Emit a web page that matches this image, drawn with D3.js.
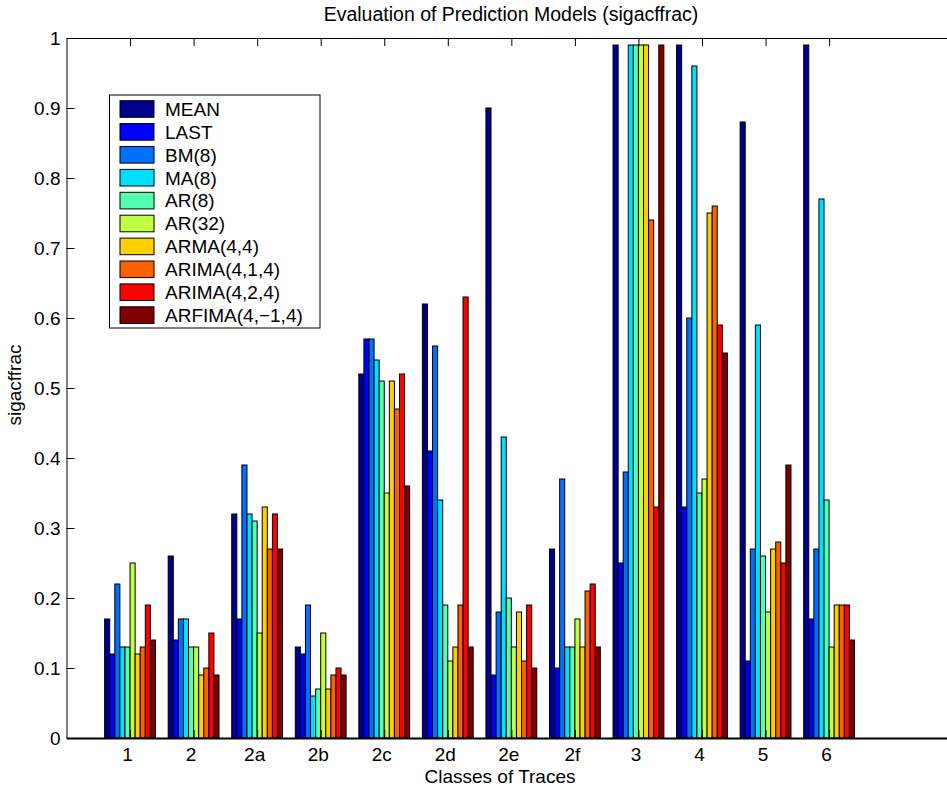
<!DOCTYPE html>
<html>
<head>
<meta charset="utf-8">
<script src="https://cdn.jsdelivr.net/npm/d3@7"></script>
<style>
	body { margin: 0; background: #fff; }
	text { font-family: "Liberation Sans", Arial, Helvetica, sans-serif; }
</style>
</head>
<body>
<div id="bar"></div>
<script>
// categories on the x axis
const categories = ["1", "2", "2a", "2b", "2c", "2d", "2e", "2f", "3", "4", "5", "6"];

// model names (legend order)
const models = ["MEAN", "LAST", "BM(8)", "MA(8)", "AR(8)", "AR(32)", "ARMA(4,4)", "ARIMA(4,1,4)", "ARIMA(4,2,4)", "ARFIMA(4,\u22121,4)"];

// sigacffrac values per model, one per category
const meanVals    = [0.17, 0.26, 0.32, 0.13, 0.52, 0.62, 0.90, 0.27, 0.99, 0.99, 0.88, 0.99];
const lastVals    = [0.12, 0.14, 0.17, 0.12, 0.57, 0.41, 0.09, 0.10, 0.25, 0.33, 0.11, 0.17];
const bm8Vals     = [0.22, 0.17, 0.39, 0.19, 0.57, 0.56, 0.18, 0.37, 0.38, 0.60, 0.27, 0.27];
const ma8Vals     = [0.13, 0.17, 0.32, 0.06, 0.54, 0.34, 0.43, 0.13, 0.99, 0.96, 0.59, 0.77];
const ar8Vals     = [0.13, 0.13, 0.31, 0.07, 0.51, 0.19, 0.20, 0.13, 0.99, 0.35, 0.26, 0.34];
const ar32Vals    = [0.25, 0.13, 0.15, 0.15, 0.35, 0.11, 0.13, 0.17, 0.99, 0.37, 0.18, 0.13];
const armaVals    = [0.12, 0.09, 0.33, 0.07, 0.51, 0.13, 0.18, 0.13, 0.99, 0.75, 0.27, 0.19];
const arima414Vals = [0.13, 0.10, 0.27, 0.09, 0.47, 0.19, 0.11, 0.21, 0.74, 0.76, 0.28, 0.19];
const arima424Vals = [0.19, 0.15, 0.32, 0.10, 0.52, 0.63, 0.19, 0.22, 0.33, 0.59, 0.25, 0.19];
const arfimaVals  = [0.14, 0.09, 0.27, 0.09, 0.36, 0.13, 0.10, 0.13, 0.99, 0.55, 0.39, 0.14];

// jet colormap entries used for the 10 series
const colors = ["#00008f", "#0000ff", "#0070ff", "#00dfff", "#50ffb0", "#bfff40", "#ffcf00", "#ff6000", "#ff0000", "#800000"];

const yTicks = [0, 0.1, 0.2, 0.3, 0.4, 0.5, 0.6, 0.7, 0.8, 0.9, 1];

class GroupedBar {
	constructor(_series){
		this.margin = {top: 38, left: 66.5, bottom: 52};
		this.svgWidth = 947;
		this.svgHeight = 790;
		this.height = this.svgHeight - this.margin.top - this.margin.bottom;
		this.series = _series;
		this.initVis();
	}

	initVis(){
		let vis = this;

		vis.svg = d3.select("#bar").append("svg")
			.attr("width", vis.svgWidth)
			.attr("height", vis.svgHeight);

		// x runs from 0 to 14 like matlab, the right part falls off the figure
		vis.step = 63.55;
		vis.xScale = d3.scaleLinear().domain([0, 14]).range([0, 14 * vis.step]);
		vis.yScale = d3.scaleLinear().domain([0, 1]).range([vis.height, 0]);

		vis.focus = vis.svg.append("g")
			.attr("transform", "translate(" + vis.margin.left + "," + vis.margin.top + ")");

		vis.renderVis();
	}

	renderVis(){
		let vis = this;
		const n = vis.series.length;
		const groupW = 0.8;
		const barW = groupW / n;

		// bars, one group per series
		vis.focus.selectAll("g.series")
			.data(vis.series)
			.join("g")
			.attr("class", "series")
			.attr("fill", d => d.color)
			.selectAll("rect")
			.data((d, j) => d.values.map((v, i) => ({i: i, j: j, v: v})))
			.join("rect")
			.attr("x", d => vis.xScale(d.i + 1 - groupW / 2 + d.j * barW))
			.attr("width", d => vis.xScale(barW) - vis.xScale(0))
			.attr("y", d => vis.yScale(d.v))
			.attr("height", d => vis.height - vis.yScale(d.v))
			.attr("stroke", "#000")
			.attr("stroke-width", 1);

		// y axis, ticks pointing inward
		vis.yAxis = d3.axisLeft(vis.yScale)
			.tickValues(yTicks)
			.tickFormat(d => String(+d.toFixed(1)))
			.tickSizeInner(-8)
			.tickSizeOuter(0)
			.tickPadding(6);
		vis.yAxisG = vis.focus.append("g").call(vis.yAxis);

		// bottom axis
		vis.xAxis = d3.axisBottom(vis.xScale)
			.tickValues(d3.range(1, categories.length + 1))
			.tickFormat(d => categories[d - 1])
			.tickSizeInner(-8)
			.tickSizeOuter(0)
			.tickPadding(10);
		vis.xAxisG = vis.focus.append("g")
			.attr("transform", `translate(0,${vis.height})`)
			.call(vis.xAxis);
		vis.xAxisG.select(".domain").attr("stroke-width", 2);
		vis.xAxisG.selectAll(".tick text").attr("dx", -3);

		// top border with ticks
		vis.topAxis = d3.axisTop(vis.xScale)
			.tickValues(d3.range(1, categories.length + 1))
			.tickFormat("")
			.tickSizeInner(-8)
			.tickSizeOuter(0);
		vis.focus.append("g").call(vis.topAxis);

		vis.focus.selectAll(".tick text")
			.attr("fill", "#000")
			.style("font-size", "19px");
		vis.focus.selectAll(".tick line, .domain").attr("stroke", "#000");

		// titles
		vis.svg.append("text")
			.attr("x", 511)
			.attr("y", 21)
			.style("text-anchor", "middle")
			.style("font-size", "19.5px")
			.text("Evaluation of Prediction Models (sigacffrac)");

		vis.svg.append("text")
			.attr("x", 500)
			.attr("y", 783)
			.style("text-anchor", "middle")
			.style("font-size", "19px")
			.text("Classes of Traces");

		vis.svg.append("text")
			.attr("transform", "translate(21,385) rotate(-90)")
			.style("text-anchor", "middle")
			.style("font-size", "19px")
			.text("sigacffrac");

		// legend
		vis.legend = vis.svg.append("g").attr("transform", "translate(109.5,95)");
		vis.legend.append("rect")
			.attr("width", 210.5)
			.attr("height", 233)
			.attr("fill", "#fff")
			.attr("stroke", "#000");

		const items = vis.legend.selectAll("g.item")
			.data(vis.series)
			.join("g")
			.attr("class", "item")
			.attr("transform", (d, i) => `translate(0,${14 + i * 22.9})`);
		items.append("rect")
			.attr("x", 10.5)
			.attr("y", -8.3)
			.attr("width", 34)
			.attr("height", 16.6)
			.attr("fill", d => d.color)
			.attr("stroke", "#000");
		items.append("text")
			.attr("x", 55.5)
			.attr("y", 6.8)
			.style("font-size", "19px")
			.text(d => d.name);
	}
}

const allVals = [meanVals, lastVals, bm8Vals, ma8Vals, ar8Vals, ar32Vals, armaVals, arima414Vals, arima424Vals, arfimaVals];
const series = models.map((m, i) => ({name: m, color: colors[i], values: allVals[i]}));

new GroupedBar(series);
</script>
</body>
</html>
